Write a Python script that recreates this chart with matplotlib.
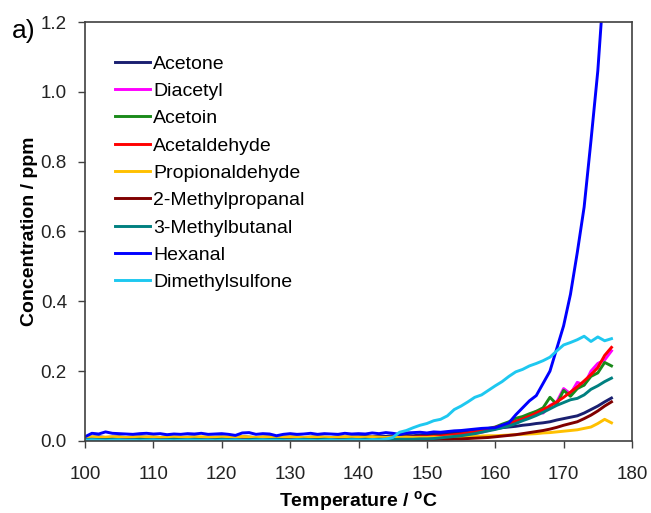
import numpy as np
import matplotlib
matplotlib.use("Agg")
from matplotlib import pyplot as plt

plt.rcParams['font.family'] = ['Liberation Sans', 'DejaVu Sans']
plt.rcParams['mathtext.fontset'] = 'custom'
plt.rcParams['mathtext.rm'] = 'Liberation Sans'
plt.rcParams['mathtext.bf'] = 'Liberation Sans:bold'

# temperature in degC, 1 degree steps
temperature = np.arange(100, 178)

acetone = [
    0.010, 0.011, 0.012, 0.010, 0.011, 0.012, 0.010, 0.011, 0.012, 0.011,
    0.011, 0.010, 0.012, 0.011, 0.010, 0.011, 0.012, 0.010, 0.011, 0.011,
    0.012, 0.010, 0.011, 0.012, 0.011, 0.010, 0.011, 0.012, 0.010, 0.011,
    0.011, 0.012, 0.010, 0.011, 0.012, 0.011, 0.010, 0.012, 0.011, 0.012,
    0.012, 0.013, 0.012, 0.014, 0.013, 0.015, 0.014, 0.016, 0.015, 0.017,
    0.018, 0.019, 0.020, 0.021, 0.023, 0.024, 0.026, 0.028, 0.030, 0.033,
    0.035, 0.038, 0.040, 0.042, 0.045, 0.047, 0.050, 0.052, 0.055, 0.060,
    0.064, 0.068, 0.072, 0.080, 0.090, 0.100, 0.112, 0.123]

diacetyl = [
    0.005, 0.006, 0.004, 0.005, 0.006, 0.005, 0.004, 0.005, 0.006, 0.005,
    0.004, 0.005, 0.006, 0.005, 0.004, 0.005, 0.005, 0.006, 0.004, 0.005,
    0.006, 0.005, 0.004, 0.005, 0.006, 0.005, 0.005, 0.004, 0.006, 0.005,
    0.005, 0.004, 0.006, 0.005, 0.005, 0.006, 0.004, 0.005, 0.006, 0.005,
    0.005, 0.006, 0.005, 0.004, 0.006, 0.005, 0.006, 0.005, 0.006, 0.006,
    0.007, 0.008, 0.009, 0.011, 0.013, 0.015, 0.018, 0.021, 0.025, 0.030,
    0.036, 0.042, 0.050, 0.058, 0.066, 0.072, 0.085, 0.080, 0.102, 0.112,
    0.150, 0.135, 0.168, 0.160, 0.200, 0.222, 0.232, 0.258]

acetoin = [
    0.004, 0.005, 0.004, 0.003, 0.004, 0.005, 0.004, 0.004, 0.003, 0.004,
    0.005, 0.004, 0.004, 0.003, 0.004, 0.005, 0.004, 0.004, 0.005, 0.003,
    0.004, 0.004, 0.005, 0.004, 0.003, 0.004, 0.005, 0.004, 0.004, 0.003,
    0.004, 0.005, 0.004, 0.004, 0.003, 0.004, 0.005, 0.004, 0.004, 0.005,
    0.004, 0.005, 0.004, 0.005, 0.005, 0.004, 0.005, 0.005, 0.006, 0.005,
    0.006, 0.008, 0.010, 0.012, 0.015, 0.018, 0.022, 0.026, 0.030, 0.036,
    0.040, 0.048, 0.055, 0.065, 0.070, 0.078, 0.085, 0.095, 0.125, 0.105,
    0.145, 0.128, 0.150, 0.160, 0.185, 0.195, 0.225, 0.215]

acetaldehyde = [
    0.009, 0.010, 0.008, 0.009, 0.010, 0.009, 0.008, 0.010, 0.009, 0.009,
    0.010, 0.008, 0.009, 0.010, 0.009, 0.009, 0.008, 0.010, 0.009, 0.010,
    0.009, 0.008, 0.009, 0.010, 0.009, 0.008, 0.010, 0.009, 0.009, 0.010,
    0.009, 0.008, 0.009, 0.010, 0.009, 0.010, 0.009, 0.008, 0.009, 0.010,
    0.009, 0.010, 0.010, 0.009, 0.010, 0.011, 0.010, 0.011, 0.011, 0.012,
    0.012, 0.013, 0.014, 0.016, 0.018, 0.020, 0.023, 0.026, 0.030, 0.034,
    0.039, 0.044, 0.050, 0.056, 0.063, 0.071, 0.080, 0.090, 0.100, 0.112,
    0.125, 0.140, 0.155, 0.172, 0.190, 0.210, 0.245, 0.268]

propionaldehyde = [
    0.011, 0.012, 0.010, 0.011, 0.012, 0.011, 0.010, 0.012, 0.011, 0.011,
    0.012, 0.010, 0.011, 0.012, 0.011, 0.010, 0.011, 0.012, 0.011, 0.010,
    0.011, 0.012, 0.011, 0.013, 0.011, 0.010, 0.012, 0.011, 0.010, 0.011,
    0.012, 0.011, 0.010, 0.011, 0.012, 0.011, 0.010, 0.011, 0.012, 0.011,
    0.010, 0.011, 0.012, 0.011, 0.010, 0.011, 0.010, 0.011, 0.010, 0.010,
    0.010, 0.011, 0.010, 0.011, 0.012, 0.012, 0.013, 0.013, 0.014, 0.015,
    0.015, 0.016, 0.017, 0.018, 0.019, 0.020, 0.021, 0.023, 0.024, 0.026,
    0.028, 0.030, 0.032, 0.036, 0.040, 0.050, 0.062, 0.052]

methylpropanal = [
    0.003, 0.004, 0.003, 0.002, 0.003, 0.004, 0.003, 0.003, 0.002, 0.003,
    0.004, 0.003, 0.003, 0.002, 0.003, 0.004, 0.003, 0.003, 0.004, 0.002,
    0.003, 0.003, 0.004, 0.003, 0.002, 0.003, 0.004, 0.003, 0.003, 0.002,
    0.003, 0.004, 0.003, 0.003, 0.002, 0.003, 0.004, 0.003, 0.003, 0.004,
    0.003, 0.004, 0.003, 0.003, 0.004, 0.003, 0.004, 0.003, 0.004, 0.004,
    0.004, 0.004, 0.005, 0.005, 0.006, 0.006, 0.007, 0.008, 0.009, 0.010,
    0.012, 0.014, 0.016, 0.018, 0.021, 0.024, 0.027, 0.030, 0.034, 0.039,
    0.045, 0.050, 0.055, 0.064, 0.074, 0.086, 0.100, 0.112]

methylbutanal = [
    0.004, 0.005, 0.004, 0.004, 0.005, 0.004, 0.003, 0.004, 0.005, 0.004,
    0.004, 0.003, 0.004, 0.005, 0.004, 0.004, 0.005, 0.004, 0.003, 0.004,
    0.005, 0.004, 0.004, 0.003, 0.004, 0.005, 0.004, 0.004, 0.005, 0.004,
    0.003, 0.004, 0.005, 0.004, 0.004, 0.005, 0.004, 0.003, 0.004, 0.005,
    0.004, 0.005, 0.004, 0.005, 0.005, 0.004, 0.005, 0.005, 0.005, 0.006,
    0.006, 0.007, 0.009, 0.011, 0.013, 0.015, 0.018, 0.021, 0.025, 0.029,
    0.033, 0.038, 0.043, 0.050, 0.058, 0.065, 0.073, 0.082, 0.092, 0.102,
    0.110, 0.118, 0.122, 0.132, 0.148, 0.158, 0.170, 0.180]

hexanal = [
    0.012, 0.022, 0.020, 0.026, 0.022, 0.021, 0.020, 0.019, 0.021, 0.022,
    0.020, 0.021, 0.018, 0.020, 0.019, 0.021, 0.020, 0.022, 0.019, 0.020,
    0.021, 0.019, 0.016, 0.023, 0.024, 0.019, 0.021, 0.020, 0.015, 0.019,
    0.021, 0.019, 0.020, 0.022, 0.019, 0.021, 0.020, 0.019, 0.022, 0.020,
    0.021, 0.020, 0.023, 0.021, 0.024, 0.022, 0.019, 0.023, 0.024, 0.025,
    0.023, 0.026, 0.025, 0.027, 0.029, 0.030, 0.032, 0.034, 0.036, 0.037,
    0.038, 0.045, 0.052, 0.075, 0.095, 0.115, 0.130, 0.165, 0.200, 0.265,
    0.330, 0.420, 0.540, 0.670, 0.860, 1.060, 1.340, 1.600]

dimethylsulfone = [
    0.002, 0.003, 0.002, 0.001, 0.002, 0.003, 0.002, 0.002, 0.001, 0.002,
    0.003, 0.002, 0.002, 0.001, 0.002, 0.003, 0.002, 0.002, 0.003, 0.001,
    0.002, 0.002, 0.003, 0.002, 0.001, 0.002, 0.003, 0.002, 0.002, 0.001,
    0.002, 0.003, 0.002, 0.002, 0.001, 0.002, 0.003, 0.002, 0.002, 0.003,
    0.003, 0.002, 0.004, 0.003, 0.005, 0.010, 0.025, 0.030, 0.038, 0.045,
    0.050, 0.058, 0.062, 0.072, 0.090, 0.100, 0.112, 0.125, 0.132, 0.145,
    0.158, 0.170, 0.185, 0.198, 0.205, 0.215, 0.222, 0.230, 0.240, 0.258,
    0.275, 0.282, 0.290, 0.300, 0.285, 0.298, 0.287, 0.293]

series = [
    ('Acetone', acetone, '#1a1f70'),
    ('Diacetyl', diacetyl, '#ff00ff'),
    ('Acetoin', acetoin, '#1a8a1a'),
    ('Acetaldehyde', acetaldehyde, '#ff0000'),
    ('Propionaldehyde', propionaldehyde, '#ffc000'),
    ('2-Methylpropanal', methylpropanal, '#800000'),
    ('3-Methylbutanal', methylbutanal, '#008080'),
    ('Hexanal', hexanal, '#0000ff'),
    ('Dimethylsulfone', dimethylsulfone, '#1ec8f0'),
]

fig = plt.figure(figsize=(6.51, 5.13), dpi=100)
ax = fig.add_axes([0.1306, 0.1404, 0.8402, 0.8167])

for name, vals, col in series:
    ax.plot(temperature, vals, color=col, lw=2.1, label=name)

ax.set_xlim(100, 180)
ax.set_ylim(0, 1.2)
ax.set_xticks(np.arange(100, 181, 10))
ax.set_yticks(np.arange(0, 1.21, 0.2))
ax.set_yticklabels(['%.1f' % v for v in np.arange(0, 1.21, 0.2)])
ax.tick_params(labelsize=13.5, length=5, width=1, color='#404040', labelcolor='#222222')
ax.tick_params(axis='x', pad=13)
ax.tick_params(axis='y', pad=8)
for sp in ax.spines.values():
    sp.set_color('#404040')
    sp.set_linewidth(1.2)

ax.set_xlabel(r'Temperature / $\mathbf{^{o}}$C', fontsize=14, fontweight='bold', labelpad=4)
ax.set_ylabel('Concentration / ppm', fontsize=14, fontweight='bold', labelpad=2)

leg = ax.legend(loc='upper left', bbox_to_anchor=(115 / 651, 1 - 55 / 513),
                bbox_transform=fig.transFigure, frameon=False,
                fontsize=14, handlelength=1.8, handletextpad=0.15, labelspacing=0.5,
                borderpad=0, borderaxespad=0)

fig.text(0.018, 0.925, 'a)', fontsize=19)

plt.savefig('out.png', dpi=100)
